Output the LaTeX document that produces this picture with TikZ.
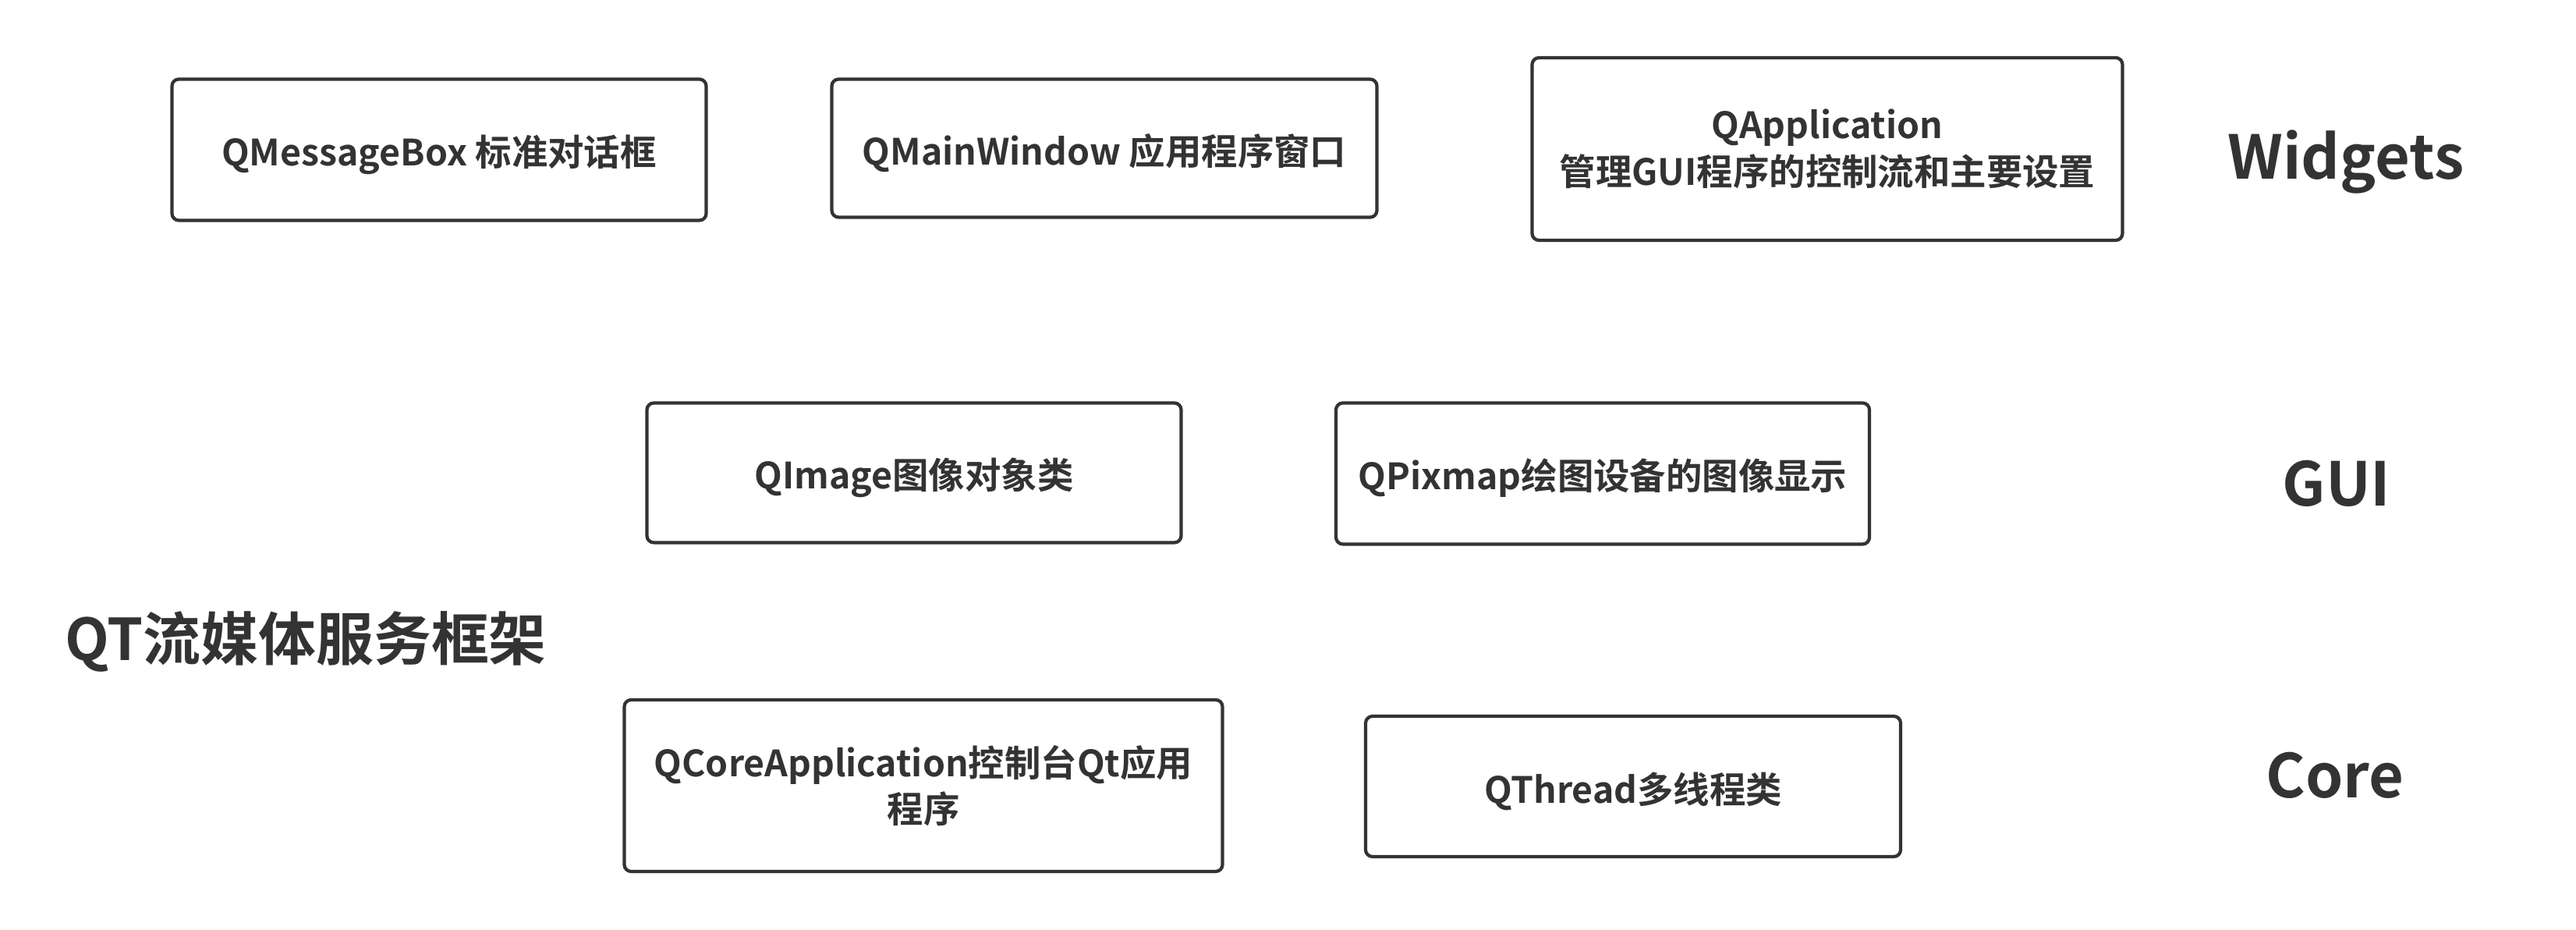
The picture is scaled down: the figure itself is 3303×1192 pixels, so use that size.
\documentclass[tikz,border=0pt]{standalone}
\usepackage{fontspec}
\setmainfont{Noto Sans CJK SC}[BoldFont={* Bold}]
\definecolor{ink}{HTML}{333333}
\newcommand{\lowtxt}[1]{\raisebox{-1.7pt}[\height][\depth]{#1}}
\begin{document}
\begin{tikzpicture}[x=0.01cm,y=-0.01cm,
  box/.style={draw=ink, line width=1.2pt, rounded corners=2.5pt, fill=white,
    text=ink, font=\fontsize{13.2}{17}\selectfont\bfseries, align=center,
    inner sep=0pt, anchor=center},
  layer/.style={text=ink, font=\fontsize{22}{26}\selectfont\bfseries, anchor=center},
  title/.style={text=ink, font=\fontsize{21}{25}\selectfont\bfseries, anchor=center}]
\useasboundingbox (0,0) rectangle (3303,1192);
\fill[white] (0,0) rectangle (3303,1192);
\node[box, minimum width=685*0.01cm, minimum height=181*0.01cm] (mb) at (563,192) {\lowtxt{QMessageBox 标准对话框}};
\node[box, minimum width=699*0.01cm, minimum height=177*0.01cm] (mw) at (1416,190) {\lowtxt{QMainWindow 应用程序窗口}};
\node[box, minimum width=757*0.01cm, minimum height=234*0.01cm] (qa) at (2343,191) {QApplication\\管理GUI程序的控制流和主要设置};
\node[box, minimum width=685*0.01cm, minimum height=179*0.01cm] (qi) at (1172,606) {\lowtxt{QImage图像对象类}};
\node[box, minimum width=684*0.01cm, minimum height=181*0.01cm] (qp) at (2055,607) {\lowtxt{QPixmap绘图设备的图像显示}};
\node[box, minimum width=767*0.01cm, minimum height=220*0.01cm] (qc) at (1184,1007) {QCoreApplication控制台Qt应用\\程序};
\node[box, minimum width=686*0.01cm, minimum height=180*0.01cm] (qt) at (2094,1008) {\lowtxt{QThread多线程类}};
\node[layer] (lw) at (3008,208) {Widgets};
\node[layer] (lg) at (2996,620) {GUI};
\node[layer] (lc) at (2994,994) {Core};
\node[title] (tt) at (392,822) {QT流媒体服务框架};
\end{tikzpicture}
\end{document}
